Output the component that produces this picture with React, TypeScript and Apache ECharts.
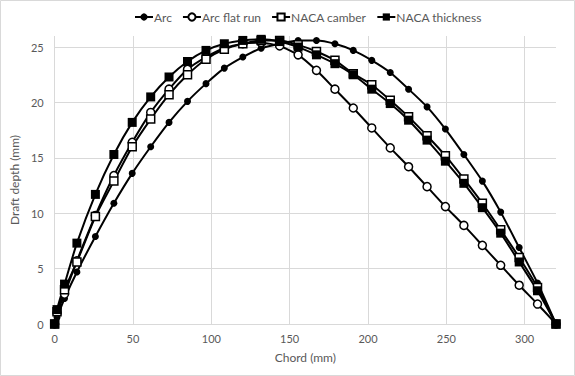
import React, { useEffect, useRef } from "react";
import * as echarts from "echarts";

const chord = [0, 1.5, 6.3, 14.2, 26.0, 37.8, 49.5, 61.3, 73.0, 84.8, 96.6, 108.3, 120.1, 131.8, 143.6, 155.4, 167.1, 178.9, 190.6, 202.4, 214.2, 225.9, 237.7, 249.4, 261.2, 273.0, 284.7, 296.5, 308.2, 320];
const arc = [0, 0.6, 2.3, 4.7, 7.9, 10.9, 13.6, 16.0, 18.2, 20.1, 21.7, 23.1, 24.1, 24.9, 25.3, 25.6, 25.6, 25.3, 24.7, 23.8, 22.7, 21.2, 19.6, 17.6, 15.3, 12.9, 10.1, 6.9, 3.7, 0];
const flatRun = [0, 1.0, 2.7, 5.7, 9.8, 13.4, 16.4, 19.1, 21.2, 23.0, 24.1, 24.9, 25.3, 25.4, 25.1, 24.3, 22.9, 21.2, 19.5, 17.7, 15.9, 14.2, 12.4, 10.6, 8.9, 7.1, 5.3, 3.5, 1.8, 0];
const camber = [0, 1.1, 3.1, 5.6, 9.7, 12.9, 16.0, 18.5, 20.7, 22.5, 23.9, 24.8, 25.3, 25.6, 25.6, 25.2, 24.6, 23.8, 22.6, 21.6, 20.2, 18.7, 17.0, 15.2, 13.1, 10.9, 8.5, 6.0, 3.3, 0];
const thickness = [0, 1.3, 3.6, 7.3, 11.7, 15.3, 18.2, 20.5, 22.3, 23.7, 24.7, 25.3, 25.6, 25.7, 25.5, 25.0, 24.3, 23.5, 22.5, 21.2, 19.9, 18.4, 16.6, 14.7, 12.7, 10.5, 8.2, 5.6, 3.0, 0];
const seriesNames = ["Arc", "Arc flat run", "NACA camber", "NACA thickness"];

const FONT = "Lato";
const TEXT = "#595959";
const GRID = "#d9d9d9";

function pairs(ys: number[]) {
  return chord.map((x, i) => [x, ys[i]]);
}

export default function App() {
  const ref = useRef<HTMLDivElement>(null);
  useEffect(() => {
    if (!ref.current) return;
    const chart = echarts.init(ref.current, null, { renderer: "svg" });
    const base = {
      type: "line",
      smooth: 0.2,
      lineStyle: { color: "#000", width: 2 },
      emphasis: { disabled: true },
    };
    chart.setOption({
      animation: false,
      backgroundColor: "#fff",
      textStyle: { fontFamily: FONT },
      graphic: [
        {
          type: "rect",
          shape: { x: 0.5, y: 0.5, width: 574, height: 375 },
          style: { fill: "none", stroke: GRID, lineWidth: 1 },
          silent: true,
        },
      ],
      legend: {
        top: 6,
        left: 129,
        itemWidth: 18,
        itemHeight: 9,
        itemGap: 10,
        textStyle: { color: TEXT, fontSize: 12, fontFamily: FONT, padding: [0, 0, 0, -4] },
        data: seriesNames,
      },
      grid: { left: 52, right: 19, top: 36, bottom: 52, containLabel: false },
      xAxis: {
        type: "value",
        min: 0,
        max: 320,
        interval: 50,
        name: "Chord (mm)",
        nameLocation: "middle",
        nameGap: 27,
        nameTextStyle: { color: TEXT, fontSize: 12, fontFamily: FONT },
        axisLine: { show: true, lineStyle: { color: GRID } },
        axisTick: { show: false },
        axisLabel: { color: TEXT, fontSize: 11, fontFamily: FONT, margin: 9, showMaxLabel: false },
        splitLine: { show: true, showMaxLine: false, lineStyle: { color: GRID, width: 1 } },
      },
      yAxis: {
        type: "value",
        min: 0,
        max: 26,
        interval: 5,
        name: "Draft depth (mm)",
        nameLocation: "middle",
        nameGap: 25,
        nameTextStyle: { color: TEXT, fontSize: 12, fontFamily: FONT },
        axisLine: { show: false },
        axisTick: { show: false },
        axisLabel: { color: TEXT, fontSize: 11, fontFamily: FONT, margin: 11, showMaxLabel: false },
        splitLine: { show: true, showMaxLine: false, lineStyle: { color: GRID, width: 1 } },
      },
      series: [
        {
          ...base,
          name: seriesNames[0],
          data: pairs(arc),
          symbol: "circle",
          symbolSize: 7,
          itemStyle: { color: "#000", borderColor: "#000", borderWidth: 0 },
        },
        {
          ...base,
          name: seriesNames[1],
          data: pairs(flatRun),
          symbol: "circle",
          symbolSize: 8,
          itemStyle: { color: "#fff", borderColor: "#000", borderWidth: 1.5 },
        },
        {
          ...base,
          name: seriesNames[2],
          data: pairs(camber),
          symbol: "rect",
          symbolSize: 8,
          itemStyle: { color: "#fff", borderColor: "#000", borderWidth: 1.5 },
        },
        {
          ...base,
          name: seriesNames[3],
          data: pairs(thickness),
          symbol: "rect",
          symbolSize: 9,
          itemStyle: { color: "#000", borderColor: "#000", borderWidth: 0 },
        },
      ],
    });
    return () => chart.dispose();
  }, []);
  return (
    <div
      ref={ref}
      style={{ position: "absolute", left: 0, top: 0, width: 575, height: 376 }}
    />
  );
}
